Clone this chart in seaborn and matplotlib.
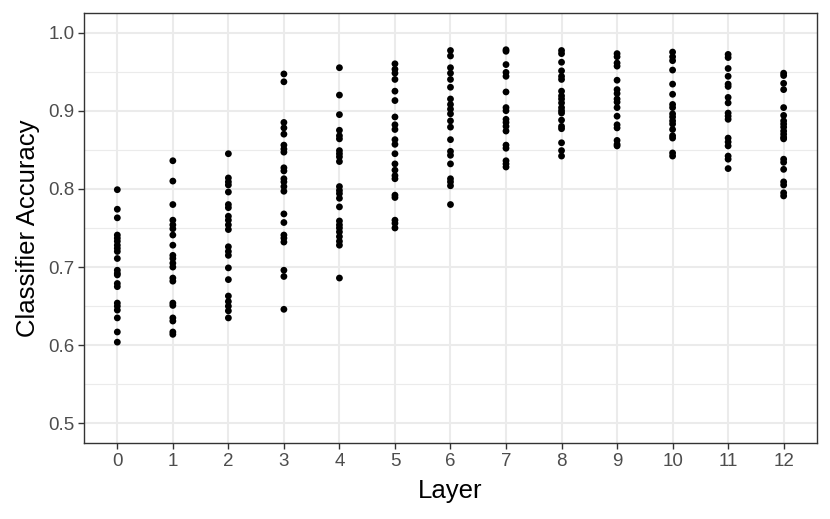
import numpy as np
import pandas as pd
import matplotlib
matplotlib.use("Agg")
import matplotlib.pyplot as plt
import seaborn as sns
from matplotlib.ticker import MultipleLocator

# accuracy values read per layer
layer_0 = [0.799, 0.774, 0.763, 0.741, 0.737, 0.733, 0.728, 0.724, 0.720, 0.711, 0.696, 0.692,
           0.690, 0.679, 0.675, 0.654, 0.650, 0.645, 0.635, 0.617, 0.604]
layer_1 = [0.836, 0.810, 0.780, 0.760, 0.754, 0.749, 0.741, 0.728, 0.715, 0.711, 0.705, 0.700,
           0.686, 0.682, 0.654, 0.651, 0.635, 0.631, 0.617, 0.614]
layer_2 = [0.845, 0.814, 0.809, 0.805, 0.796, 0.780, 0.776, 0.765, 0.760, 0.754, 0.748, 0.726,
           0.720, 0.715, 0.699, 0.684, 0.663, 0.656, 0.650, 0.644, 0.635]
layer_3 = [0.947, 0.937, 0.885, 0.878, 0.870, 0.856, 0.851, 0.847, 0.827, 0.823, 0.813, 0.809,
           0.803, 0.797, 0.768, 0.757, 0.741, 0.737, 0.732, 0.696, 0.688, 0.646]
layer_4 = [0.955, 0.920, 0.895, 0.875, 0.868, 0.864, 0.849, 0.845, 0.841, 0.835, 0.803, 0.798,
           0.794, 0.788, 0.777, 0.759, 0.754, 0.750, 0.745, 0.739, 0.733, 0.728, 0.686]
layer_5 = [0.960, 0.953, 0.948, 0.940, 0.925, 0.913, 0.892, 0.882, 0.876, 0.863, 0.857, 0.845,
           0.832, 0.824, 0.817, 0.813, 0.792, 0.789, 0.760, 0.756, 0.750]
layer_6 = [0.977, 0.970, 0.955, 0.948, 0.940, 0.930, 0.915, 0.908, 0.902, 0.896, 0.887, 0.879,
           0.863, 0.848, 0.843, 0.832, 0.813, 0.809, 0.804, 0.780]
layer_7 = [0.978, 0.976, 0.959, 0.949, 0.944, 0.924, 0.904, 0.900, 0.889, 0.885, 0.880, 0.874,
           0.856, 0.852, 0.836, 0.832, 0.828]
layer_8 = [0.977, 0.973, 0.962, 0.951, 0.944, 0.940, 0.925, 0.919, 0.915, 0.910, 0.904, 0.900,
           0.897, 0.888, 0.880, 0.877, 0.859, 0.849, 0.842]
layer_9 = [0.973, 0.969, 0.961, 0.957, 0.939, 0.927, 0.922, 0.915, 0.911, 0.904, 0.893, 0.882,
           0.878, 0.862, 0.857, 0.855]
layer_10 = [0.975, 0.969, 0.964, 0.952, 0.934, 0.921, 0.908, 0.904, 0.896, 0.892, 0.887, 0.883,
            0.876, 0.868, 0.865, 0.846, 0.842]
layer_11 = [0.972, 0.968, 0.954, 0.944, 0.934, 0.931, 0.917, 0.910, 0.897, 0.893, 0.889, 0.865,
            0.860, 0.855, 0.842, 0.838, 0.826]
layer_12 = [0.948, 0.945, 0.935, 0.927, 0.904, 0.894, 0.887, 0.883, 0.879, 0.874, 0.870, 0.866,
            0.864, 0.838, 0.834, 0.825, 0.809, 0.805, 0.795, 0.791]

layers = [layer_0, layer_1, layer_2, layer_3, layer_4, layer_5, layer_6,
          layer_7, layer_8, layer_9, layer_10, layer_11, layer_12]

df = pd.DataFrame({
    "Layer": np.concatenate([[i] * len(v) for i, v in enumerate(layers)]),
    "Accuracy": np.concatenate(layers),
})

sns.set_theme(style="white")
plt.rcParams["font.family"] = ["Liberation Sans", "DejaVu Sans"]

fig = plt.figure(figsize=(8.3, 5.19), dpi=100)
ax = fig.add_axes([0.1012, 0.1464, 0.8831, 0.8286])

sns.scatterplot(data=df, x="Layer", y="Accuracy", color="black", s=24,
                edgecolor="none", legend=False, ax=ax, zorder=3)

ax.set_xlim(-0.6, 12.6)
ax.set_ylim(0.475, 1.025)
ax.set_xticks(range(13))
ax.yaxis.set_minor_locator(MultipleLocator(0.05))
ax.set_yticks(np.arange(0.5, 1.01, 0.1))
ax.set_yticklabels([f"{v:.1f}" for v in np.arange(0.5, 1.01, 0.1)])

ax.grid(True, which="major", color="#EBEBEB", linewidth=1.5, zorder=0)
ax.grid(True, which="minor", axis="y", color="#EBEBEB", linewidth=0.8, zorder=0)
ax.set_axisbelow(True)

for sp in ax.spines.values():
    sp.set_color("#333333")
    sp.set_linewidth(1.0)

ax.tick_params(axis="both", which="major", length=4, width=1, color="#333333",
               labelcolor="#4D4D4D", labelsize=13.5, pad=3, left=True, bottom=True)
ax.tick_params(axis="y", which="minor", length=0)

ax.set_xlabel("Layer", fontsize=18.5, color="black", labelpad=7)
ax.set_ylabel("Classifier Accuracy", fontsize=18.5, color="black", labelpad=6)

fig.savefig("out.png", dpi=100)
